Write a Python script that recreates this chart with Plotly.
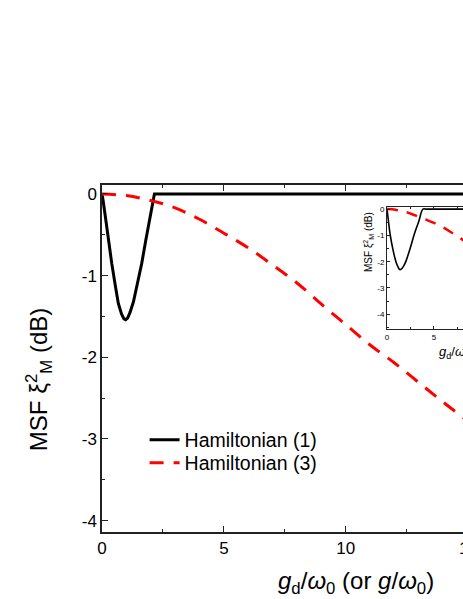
import plotly.graph_objects as go

# ---- data ----
h1_x = [0, 0.02, 0.05, 0.12, 0.25, 0.4, 0.55, 0.67, 0.8, 0.9, 0.97, 1.05, 1.15, 1.29, 1.45, 1.63, 1.8, 1.97, 2.08, 2.15, 2.3, 5, 10, 15]
h1_y = [0, -0.03, -0.09, -0.24, -0.55, -0.85, -1.13, -1.34, -1.47, -1.53, -1.54, -1.52, -1.45, -1.32, -1.1, -0.85, -0.56, -0.28, -0.08, 0, 0, 0, 0, 0]

h3_x = [0, 1, 2, 3, 4, 5, 6, 7, 8, 9, 10, 11, 12, 13, 14, 15]
h3_y = [0, -0.02, -0.08, -0.17, -0.31, -0.48, -0.66, -0.87, -1.09, -1.35, -1.60, -1.85, -2.07, -2.31, -2.55, -2.78]

in1_x = [0, 0.15, 0.35, 0.64, 0.95, 1.2, 1.35, 1.55, 1.8, 2.06, 2.5, 2.94, 3.4, 3.83, 4.2, 6, 9]
in1_y = [0, -0.45, -1.0, -1.55, -2.0, -2.22, -2.3, -2.27, -2.15, -1.94, -1.45, -0.92, -0.45, 0, 0, 0, 0]

in3_x = [0, 1, 2, 3, 4, 5, 6, 7, 8, 9]
in3_y = [0, -0.03, -0.11, -0.24, -0.38, -0.52, -0.70, -0.92, -1.15, -1.40]

main_xticks = [0, 5, 10]
main_yticks = [0, -1, -2, -3, -4]
inset_xticks = [0, 5]
inset_yticks = [0, -1, -2, -3, -4]

FONT = "Liberation Sans, Arial, sans-serif"
AX = "#222222"

fig = go.Figure()
fig.add_trace(go.Scatter(x=h1_x, y=h1_y, mode="lines", name="Hamiltonian (1)", legend="legend",
                         line=dict(color="black", width=3)))
fig.add_trace(go.Scatter(x=h3_x, y=h3_y, mode="lines", name="Hamiltonian (3)", legend="legend2",
                         line_shape="spline",
                         line=dict(color="#ff0000", width=3, dash="14px,10px")))
fig.add_trace(go.Scatter(x=in1_x, y=in1_y, mode="lines", xaxis="x2", yaxis="y2", showlegend=False,
                         line_shape="spline", line=dict(color="black", width=1.6)))
fig.add_trace(go.Scatter(x=in3_x, y=in3_y, mode="lines", xaxis="x2", yaxis="y2", showlegend=False,
                         line_shape="spline", line=dict(color="#ff0000", width=2.5, dash="11px,9px")))

leg_common = dict(xanchor="left", yanchor="middle", bgcolor="rgba(0,0,0,0)",
                  font=dict(size=19.5, family=FONT))

fig.update_layout(
    width=463, height=599,
    margin=dict(l=102, r=0, t=185, b=67),
    paper_bgcolor="white", plot_bgcolor="white",
    font=dict(family=FONT, color="black"),
    xaxis=dict(domain=[0, 1], range=[0, 14.81], showgrid=False, zeroline=False,
               showline=True, linecolor=AX, linewidth=1.5, mirror="ticks",
               ticks="inside", ticklen=6, tickwidth=1.2, tickcolor=AX,
               tickvals=main_xticks, ticktext=[str(v) for v in main_xticks],
               tickfont=dict(size=17, family=FONT),
               minor=dict(dtick=2.5, tick0=0, ticks="inside", ticklen=3, tickcolor=AX)),
    yaxis=dict(domain=[0, 1], range=[-4.14, 0.11], showgrid=False, zeroline=False,
               showline=True, linecolor=AX, linewidth=1.5,
               ticks="inside", ticklen=6, tickwidth=1.2, tickcolor=AX,
               tickvals=main_yticks, ticktext=[str(v) for v in main_yticks],
               tickfont=dict(size=17, family=FONT),
               minor=dict(dtick=0.5, tick0=0, ticks="inside", ticklen=3, tickcolor=AX)),
    xaxis2=dict(domain=[0.7895, 1.0], range=[0, 8.1], anchor="y2", showgrid=False, zeroline=False,
                showline=True, linecolor=AX, linewidth=1, mirror="ticks",
                ticks="inside", ticklen=3, tickwidth=0.8, tickcolor=AX,
                tickvals=inset_xticks, ticktext=[str(v) for v in inset_xticks],
                tickfont=dict(size=8, family=FONT),
                minor=dict(dtick=2.5, tick0=0, ticks="inside", ticklen=2, tickcolor=AX)),
    yaxis2=dict(domain=[0.585, 0.9366], range=[-4.56, 0.08], anchor="x2", showgrid=False, zeroline=False,
                showline=True, linecolor=AX, linewidth=1,
                ticks="inside", ticklen=3, tickwidth=0.8, tickcolor=AX,
                tickvals=inset_yticks, ticktext=[str(v) for v in inset_yticks],
                tickfont=dict(size=8, family=FONT),
                minor=dict(dtick=0.5, tick0=0, ticks="inside", ticklen=2, tickcolor=AX)),
    legend=dict(x=0.118, y=(532 - 440) / 347, **leg_common),
    legend2=dict(x=0.118, y=(532 - 463) / 347, **leg_common),
    showlegend=True,
)

ann = [
    dict(text="15", xref="paper", yref="paper", x=(468 - 102) / 361, y=-0.015,
         xanchor="center", yanchor="top", showarrow=False, font=dict(size=17, family=FONT)),
    dict(text="MSF ξ<sup>2</sup><sub>M</sub> (dB)", xref="paper", yref="paper",
         x=-0.175, y=0.44, xanchor="center", yanchor="middle", textangle=-90,
         showarrow=False, font=dict(size=24, family=FONT)),
    dict(text="<i>g</i><sub>d</sub>/<i>ω</i><sub>0</sub> (or <i>g</i>/<i>ω</i><sub>0</sub>)",
         xref="paper", yref="paper", x=(276 - 102) / 361, y=-0.095, xanchor="left", yanchor="top",
         showarrow=False, font=dict(size=24, family=FONT)),
    dict(text="MSF ξ<sup>2</sup><sub>M</sub> (dB)", xref="paper", yref="paper",
         x=(368 - 102) / 361, y=(532 - 242) / 347, xanchor="center", yanchor="middle", textangle=-90,
         showarrow=False, font=dict(size=10, family=FONT)),
    dict(text="<i>g</i><sub>d</sub>/<i>ω</i><sub>0</sub>", xref="paper", yref="paper",
         x=(437 - 102) / 361, y=(532 - 342) / 347, xanchor="left", yanchor="top",
         showarrow=False, font=dict(size=13, family=FONT)),
]
fig.update_layout(annotations=ann)

fig.write_html("out.html", config={"displayModeBar": False},
               post_script="document.body.style.margin='0';document.body.style.overflow='hidden';")
